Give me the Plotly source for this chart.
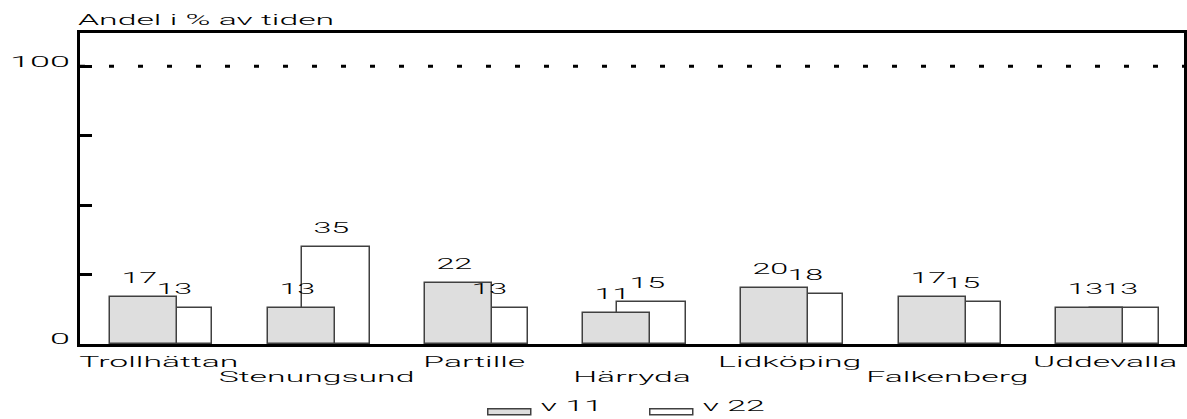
import plotly.graph_objects as go

# ---- data ----
categories = ["Trollhättan", "Stenungsund", "Partille", "Härryda",
              "Lidköping", "Falkenberg", "Uddevalla"]
v11 = [17, 13, 22, 11, 20, 17, 13]
v22 = [13, 35, 13, 15, 18, 15, 13]
series_names = ["v 11", "v 22"]
y_tick_values = [0, 25, 50, 75, 100]
y_tick_labels = ["0", "", "", "", "100"]
y_title = "Andel i % av tiden"
reference_level = 100

# ---- style ----
FONT = dict(family="Roboto, Liberation Sans, Arial, sans-serif", size=15,
            color="black", weight=300)
W11, OFF11 = 0.425, -0.31
W22, OFF22 = 0.435, -0.095
LINE = "#404040"

x = list(range(len(categories)))
even = [i for i in x if i % 2 == 0]
odd = [i for i in x if i % 2 == 1]

fig = go.Figure()
# white series drawn first (lower layer) so the grey series overlaps it
fig.add_bar(x=x, y=v22, name=series_names[1], width=W22, offset=OFF22,
            marker=dict(color="white", line=dict(color=LINE, width=1.5)),
            legendrank=2, hoverinfo="skip", xaxis="x", yaxis="y")
fig.add_bar(x=x, y=v11, name=series_names[0], width=W11, offset=OFF11,
            marker=dict(color="#dedede", line=dict(color=LINE, width=1.5)),
            legendrank=1, hoverinfo="skip", xaxis="x2", yaxis="y")

annotations = []
for vals, off, w in ((v11, OFF11, W11), (v22, OFF22, W22)):
    for i, v in enumerate(vals):
        annotations.append(dict(x=i + off + w / 2, y=v, xref="x", yref="y",
                                text=str(v), showarrow=False, yanchor="bottom",
                                yshift=8, xshift=-4, font=FONT))
annotations.append(dict(x=0, y=1, xref="paper", yref="paper", text=y_title,
                        showarrow=False, xanchor="left", yanchor="bottom",
                        align="left", yshift=2, xshift=-4, font=FONT))

fig.add_shape(type="line", xref="paper", yref="y", x0=0, x1=1,
              y0=reference_level, y1=reference_level,
              line=dict(color="black", width=3, dash="5px,24px"))

xrange = [-0.5, len(categories) - 0.5]
fig.update_layout(
    width=1187, height=419,
    margin=dict(l=80, r=3, t=33, b=75, autoexpand=False),
    paper_bgcolor="white", plot_bgcolor="white",
    barmode="overlay", bargap=0,
    font=FONT,
    showlegend=True,
    legend=dict(orientation="h", x=0.363, xanchor="left", y=-0.143,
                yanchor="top", font=FONT, entrywidth=97, itemwidth=50,
                bgcolor="rgba(0,0,0,0)", traceorder="normal"),
    annotations=annotations,
    xaxis=dict(range=xrange, tickvals=even,
               ticktext=[categories[i] for i in even], ticks="",
               showgrid=False, zeroline=False,
               showline=True, linecolor="black", linewidth=3, mirror=True,
               tickfont=FONT, automargin=False, ticklabelstandoff=2),
    xaxis2=dict(range=xrange, matches="x", overlaying="x", anchor="y",
                side="bottom", tickvals=odd,
                ticktext=[categories[i] for i in odd], ticks="",
                showgrid=False, zeroline=False, showline=False,
                tickfont=FONT, automargin=False, ticklabelstandoff=22),
    yaxis=dict(range=[0, 112], tickvals=y_tick_values,
               ticktext=y_tick_labels, ticks="inside", ticklen=12,
               tickwidth=3, tickcolor="black", showgrid=False,
               zeroline=False, showline=True, linecolor="black",
               linewidth=3, mirror=True, tickfont=FONT, automargin=False,
               ticklabelshift=-5, ticklabelstandoff=4),
)

post = r"""
document.documentElement.style.margin = '0';
document.body.style.margin = '0';
document.body.style.padding = '0';
var gd = document.getElementById('{plot_id}');
gd.querySelectorAll('text').forEach(function(t){
  var lines = t.querySelectorAll('tspan.line');
  var els = lines.length ? Array.prototype.slice.call(lines) : [t];
  var isY = t.closest && t.closest('.ytick');
  els.forEach(function(e){
    var w = e.getComputedTextLength();
    if (w > 0) {
      var k = isY ? 2.4 : (/^[0-9]+$/.test(e.textContent) ? 2.15 : 2.25);
      e.setAttribute('textLength', (w * k).toFixed(2));
      e.setAttribute('lengthAdjust', 'spacingAndGlyphs');
    }
  });
});
gd.querySelectorAll('.legend .traces').forEach(function(g){
  var p = g.querySelector('.legendpoints path');
  var t = g.querySelector('text.legendtext');
  if (!p || !t) return;
  var pb = p.getBBox(), pr = p.getBoundingClientRect(), tr = t.getBoundingClientRect();
  var right = (tr.left - 10) - pr.left + pb.x;
  var left = right - 43;
  var cy = pb.y + pb.height / 2;
  p.setAttribute('d', 'M' + right + ',' + (cy + 10) + 'H' + left + 'V' + (cy + 4) + 'H' + right + 'Z');
});
"""

fig.write_html("out.html", config={"displayModeBar": False}, post_script=post)
